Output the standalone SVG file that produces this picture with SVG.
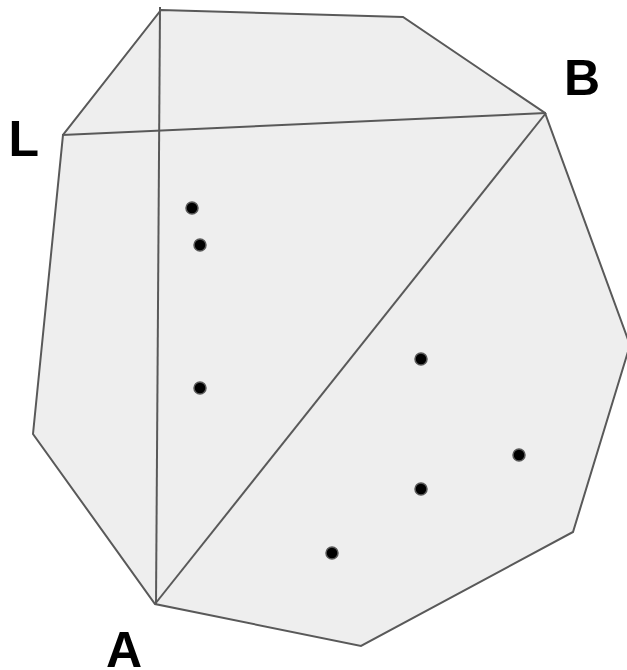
<svg xmlns="http://www.w3.org/2000/svg" width="627" height="670" viewBox="0 0 627 670">
<style>
.poly{fill:#eeeeee;stroke:#595959;stroke-width:2;stroke-linejoin:miter}
.ln{stroke:#595959;stroke-width:2;fill:none}
.pt{fill:#000000;stroke:#595959;stroke-width:1.5}
.lbl{font-family:"Liberation Sans",Arial,sans-serif;font-weight:bold;font-size:50px;fill:#000000}
</style>
<rect width="627" height="670" fill="#ffffff"/>
<g id="hull">
<polygon class="poly" points="161,10 403,17 545,113 630,345 573,532 361,646 155,604 33,434 63,135"/>
</g>
<g id="connectors">
<line class="ln" x1="160" y1="7" x2="156" y2="604"/>
<line class="ln" x1="62" y1="135" x2="546" y2="113"/>
<line class="ln" x1="155" y1="604" x2="546" y2="113"/>
</g>
<g id="points">
<circle class="pt" cx="192" cy="208" r="6"/>
<circle class="pt" cx="200" cy="245" r="6"/>
<circle class="pt" cx="200" cy="388" r="6"/>
<circle class="pt" cx="421" cy="359" r="6"/>
<circle class="pt" cx="519" cy="455" r="6"/>
<circle class="pt" cx="421" cy="489" r="6"/>
<circle class="pt" cx="332" cy="553" r="6"/>
</g>
<g id="labels">
<text class="lbl" x="8.5" y="156">L</text>
<text class="lbl" x="564" y="95">B</text>
<text class="lbl" x="106" y="667">A</text>
</g>
</svg>
